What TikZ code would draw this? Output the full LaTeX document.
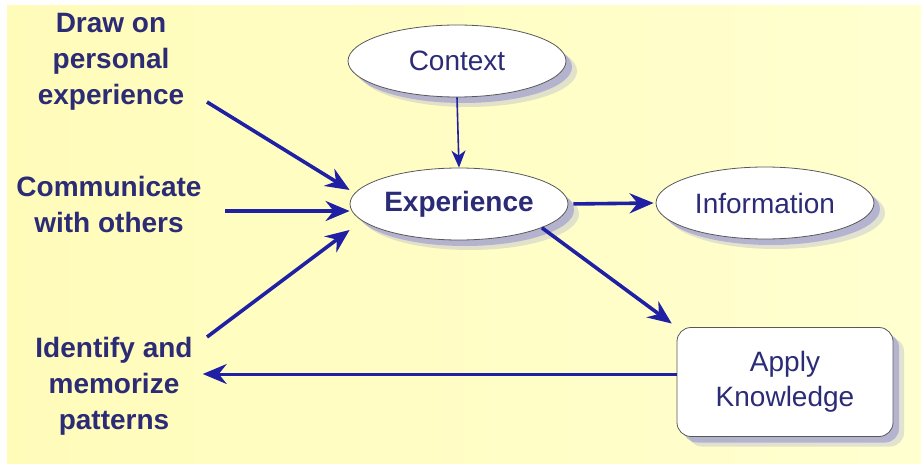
\documentclass[tikz,border=0pt]{standalone}
\usepackage{fontspec}
\setmainfont{Liberation Sans}
\usetikzlibrary{arrows.meta,positioning,shapes.geometric,shadows}
\definecolor{bgleft}{HTML}{FFFCBA}
\definecolor{bgright}{HTML}{FFFFD0}
\definecolor{navytext}{HTML}{2B2B76}
\definecolor{arrowblue}{HTML}{2020A4}
\definecolor{shadowblue}{HTML}{7C7CD4}

\begin{document}
\begin{tikzpicture}[x=1pt, y=-1pt,
        softshadow/.style={general shadow={shadow xshift=11pt, shadow yshift=-10pt, fill=shadowblue, opacity=0.22},
                           general shadow={shadow xshift=6pt, shadow yshift=-6pt, fill=shadowblue, opacity=0.45}},
        bubble/.style={ellipse, draw=black!65, line width=0.8pt, fill=white, softshadow,
                       minimum width=218pt, minimum height=72pt, inner sep=0pt,
                       text=navytext, font=\fontsize{28}{34}\selectfont},
        sidetext/.style={align=center, inner sep=0pt, text=navytext,
                         font=\bfseries\fontsize{28}{36}\selectfont},
        bigarrow/.style={draw=arrowblue, line width=3.6pt, -{Stealth[length=24pt, width=20pt, inset=8pt]}},
        thinarrow/.style={draw=arrowblue, line width=1.6pt, -{Stealth[length=17pt, width=14pt, inset=5pt]}}]
        \useasboundingbox (0,0) rectangle (921,468);
        \shade[left color=bgleft, right color=bgright] (7,6) rectangle (921,463);

        % ellipses and the box
        \node[bubble] (context) at (457,61) {Context};
        \node[bubble, font=\bfseries\fontsize{28}{34}\selectfont] (exper) at (459,204) {Experience};
        \node[bubble] (info) at (765,203) {Information};
        \node[rectangle, rounded corners=14pt, draw=black!65, line width=0.8pt, fill=white, softshadow,
              minimum width=216pt, minimum height=109pt, align=center, text=navytext,
              font=\fontsize{28}{35}\selectfont] (apply) at (785,382) {Apply\\Knowledge};

        % texts on the left
        \node[sidetext] (drawon) at (111,62) {Draw on\\personal\\experience};
        \node[sidetext] (comm) at (109,204) {Communicate\\with others};
        \node[sidetext] (ident) at (114,386) {Identify and\\memorize\\patterns};

        \coordinate (drawtail) at (207,102);
        \coordinate (commtail) at (225,211);
        \coordinate (identtail) at (207,337);

        % connectors
        \draw[bigarrow] (drawtail) -- ([yshift=14pt]exper.west);
        \draw[bigarrow] (commtail) -- ([yshift=-7pt]exper.west);
        \draw[bigarrow] (identtail) -- ([yshift=-26pt]exper.west);
        \draw[thinarrow] (context.south) -- (exper.north);
        \draw[bigarrow, shorten <=5pt, shorten >=2pt] (exper.east) -- (info.west);
        \draw[bigarrow, shorten >=6pt] (exper.-16) -- (apply.north west);
        \draw[bigarrow, line width=3pt, shorten >=10pt] ([yshift=8pt]apply.west) -- ([yshift=8pt]apply.west -| ident.east);
    \end{tikzpicture}
\end{document}
